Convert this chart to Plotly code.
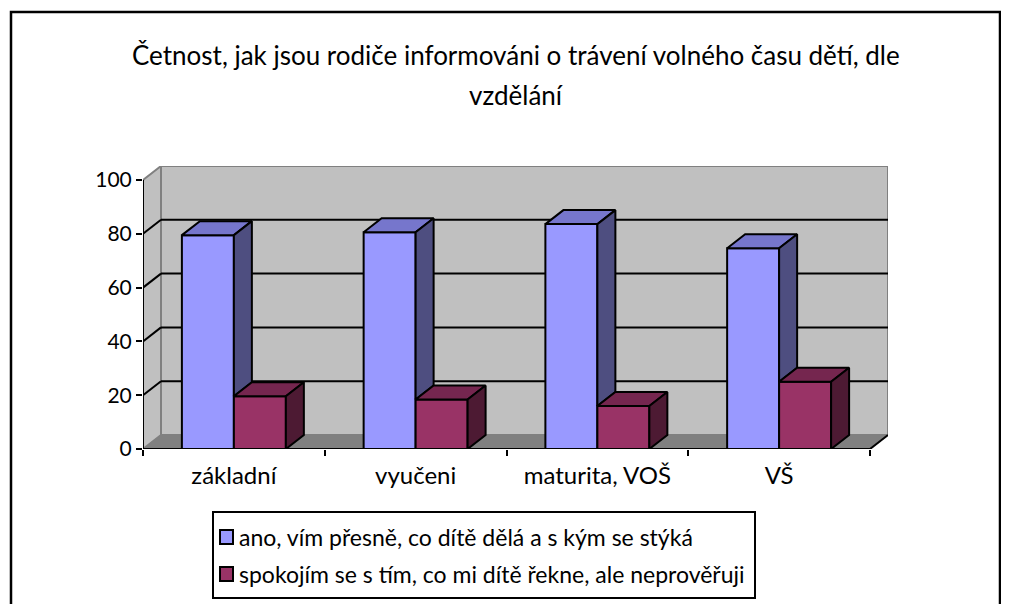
import plotly.graph_objects as go

# ---- data ----
categories = ["základní", "vyučeni", "maturita, VOŠ", "VŠ"]
series_names = ["ano, vím přesně, co dítě dělá a s kým se stýká",
                "spokojím se s tím, co mi dítě řekne, ale neprověřuji"]
ano = [79.5, 80.6, 83.6, 74.6]
spokojim = [19.6, 18.4, 16.0, 25.0]
y_ticks = [0, 20, 40, 60, 80, 100]

# ---- geometry (page pixels; the page body has an 8px margin) ----
OFF = 8
W, H = 1009 - OFF, 604 - OFF
PX_L, PX_R_FRONT = 143 - OFF, 870 - OFF   # front plane x extent
PY_0, PY_100 = 449 - OFF, 180 - OFF       # front plane y of 0 and 100
DEPTH_PX_X, DEPTH_PX_Y = 18, 14           # 3D depth offset
n = len(categories)
x_per_px = n / (PX_R_FRONT - PX_L)
y_per_px = 100 / (PY_0 - PY_100)
dx = DEPTH_PX_X * x_per_px
dy = DEPTH_PX_Y * y_per_px
xmin, xmax = -0.5, n - 0.5 + dx
ymin, ymax = 0, 100 + dy
PX_R = PX_R_FRONT + DEPTH_PX_X
PY_T = PY_100 - DEPTH_PX_Y
plot_w = PX_R - PX_L
plot_h = PY_0 - PY_T


def px_to_paper(px, py):
    """page pixel -> paper coords"""
    return (px - OFF - PX_L) / plot_w, (PY_0 - (py - OFF)) / plot_h


bw = 0.286
FONT = "Lato, Calibri, Carlito, sans-serif"
cols = {
    "blue": ("#9999ff", "#7676cc", "#4e4e80"),
    "red": ("#993366", "#75264f", "#4d1a33"),
}

fig = go.Figure()

# front faces (library bars)
fig.add_trace(go.Bar(x=list(range(n)), y=ano, width=bw, offset=-bw,
                     marker=dict(color=cols["blue"][0], line=dict(color="black", width=2)),
                     name=series_names[0], showlegend=False))
fig.add_trace(go.Bar(x=list(range(n)), y=spokojim, width=bw, offset=0,
                     marker=dict(color=cols["red"][0], line=dict(color="black", width=2)),
                     name=series_names[1], showlegend=False))


def poly(xs, ys, color):
    fig.add_trace(go.Scatter(x=xs + [xs[0]], y=ys + [ys[0]], mode="lines", fill="toself",
                             fillcolor=color, line=dict(color="black", width=2),
                             hoverinfo="skip", showlegend=False))


for i in range(n):
    b, r = ano[i], spokojim[i]
    # blue top & side (side visible above red box)
    x0, x1 = i - bw, i
    poly([x0, x1, x1 + dx, x0 + dx], [b, b, b + dy, b + dy], cols["blue"][1])
    poly([x1, x1, x1 + dx, x1 + dx], [r, b, b + dy, r + dy], cols["blue"][2])
    # red top & side
    x0, x1 = i, i + bw
    poly([x0, x1, x1 + dx, x0 + dx], [r, r, r + dy, r + dy], cols["red"][1])
    poly([x1, x1, x1 + dx, x1 + dx], [0, r, r + dy, dy], cols["red"][2])

shapes = []
# back wall
shapes.append(dict(type="rect", xref="x", yref="y", x0=-0.5 + dx, x1=n - 0.5 + dx, y0=dy, y1=100 + dy,
                   fillcolor="#c0c0c0", line=dict(color="#808080", width=2), layer="below"))
# left wall
shapes.append(dict(type="path", xref="x", yref="y",
                   path=f"M {-0.5},{0} L {-0.5},{100} L {-0.5 + dx},{100 + dy} L {-0.5 + dx},{dy} Z",
                   fillcolor="#c0c0c0", line=dict(color="#808080", width=2), layer="below"))
# floor
shapes.append(dict(type="path", xref="x", yref="y",
                   path=f"M {-0.5},{0} L {n - 0.5},{0} L {n - 0.5 + dx},{dy} L {-0.5 + dx},{dy} Z",
                   fillcolor="#808080", line=dict(color="#808080", width=1), layer="below"))
# gridlines
for v in y_ticks[1:-1]:
    shapes.append(dict(type="line", xref="x", yref="y", x0=-0.5 + dx, x1=n - 0.5 + dx, y0=v + dy, y1=v + dy,
                       line=dict(color="black", width=2), layer="below"))
    shapes.append(dict(type="line", xref="x", yref="y", x0=-0.5, x1=-0.5 + dx, y0=v, y1=v + dy,
                       line=dict(color="black", width=2), layer="below"))
# axis lines
shapes.append(dict(type="line", xref="x", yref="y", x0=-0.5, x1=-0.5, y0=0, y1=100,
                   line=dict(color="black", width=2), layer="below"))
shapes.append(dict(type="line", xref="x", yref="y", x0=-0.5, x1=n - 0.5, y0=0, y1=0,
                   line=dict(color="black", width=2), layer="above"))
shapes.append(dict(type="line", xref="x", yref="y", x0=n - 0.5, x1=n - 0.5 + dx, y0=0, y1=dy,
                   line=dict(color="black", width=2), layer="above"))

# outer border
bx0, by0 = px_to_paper(11, 12)
bx1, by1 = px_to_paper(1000, 620)
shapes.append(dict(type="rect", xref="paper", yref="paper", x0=bx0, x1=bx1, y0=by1, y1=by0,
                   line=dict(color="black", width=2.5), fillcolor="rgba(0,0,0,0)", layer="above"))

# legend box (custom)
lx0, ly0 = px_to_paper(213, 512)
lx1, ly1 = px_to_paper(755, 598)
shapes.append(dict(type="rect", xref="paper", yref="paper", x0=lx0, x1=lx1, y0=ly1, y1=ly0,
                   line=dict(color="black", width=2), fillcolor="white", layer="above"))
annotations = []
for k, (name, c) in enumerate(zip(series_names, [cols["blue"][0], cols["red"][0]])):
    cy = 537 + k * 37
    sx0, sy0 = px_to_paper(220, cy - 7)
    sx1, sy1 = px_to_paper(233, cy + 7)
    shapes.append(dict(type="rect", xref="paper", yref="paper", x0=sx0, x1=sx1, y0=sy1, y1=sy0,
                       fillcolor=c, line=dict(color="black", width=2), layer="above"))
    tx, ty = px_to_paper(237, cy)
    annotations.append(dict(x=tx, y=ty, xref="paper", yref="paper", text=name, showarrow=False,
                            xanchor="left", yanchor="middle", font=dict(family=FONT, size=23, color="black")))

# title (two lines)
for txt, py in [("Četnost, jak jsou rodiče informováni o trávení volného času dětí, dle", 55),
                ("vzdělání", 95)]:
    tx, ty = px_to_paper(516, py)
    annotations.append(dict(x=tx, y=ty, xref="paper", yref="paper", text=txt, showarrow=False,
                            xanchor="center", yanchor="middle", font=dict(family=FONT, size=26, color="black")))

fig.update_layout(
    width=W, height=H, autosize=False,
    margin=dict(l=PX_L, r=W - PX_R, t=PY_T, b=H - PY_0, pad=0),
    paper_bgcolor="white", plot_bgcolor="rgba(0,0,0,0)",
    barmode="overlay", showlegend=False,
    shapes=shapes, annotations=annotations,
    font=dict(family=FONT, color="black"),
    xaxis=dict(range=[xmin, xmax], showgrid=False, zeroline=False, showline=False,
               tickmode="array", tickvals=list(range(n)), ticktext=categories,
               ticks="", tickfont=dict(size=24, family=FONT), ticklabelstandoff=10,
               minor=dict(tickmode="array", tickvals=[i - 0.5 for i in range(n + 1)], ticks="outside",
                          ticklen=6, tickwidth=2, tickcolor="black", showgrid=False)),
    yaxis=dict(range=[ymin, ymax], showgrid=False, zeroline=False, showline=False,
               tickmode="array", tickvals=y_ticks, ticks="outside", ticklen=6, tickwidth=2,
               tickcolor="black", tickfont=dict(size=21, family=FONT)),
)

fig.write_html("out.html")
